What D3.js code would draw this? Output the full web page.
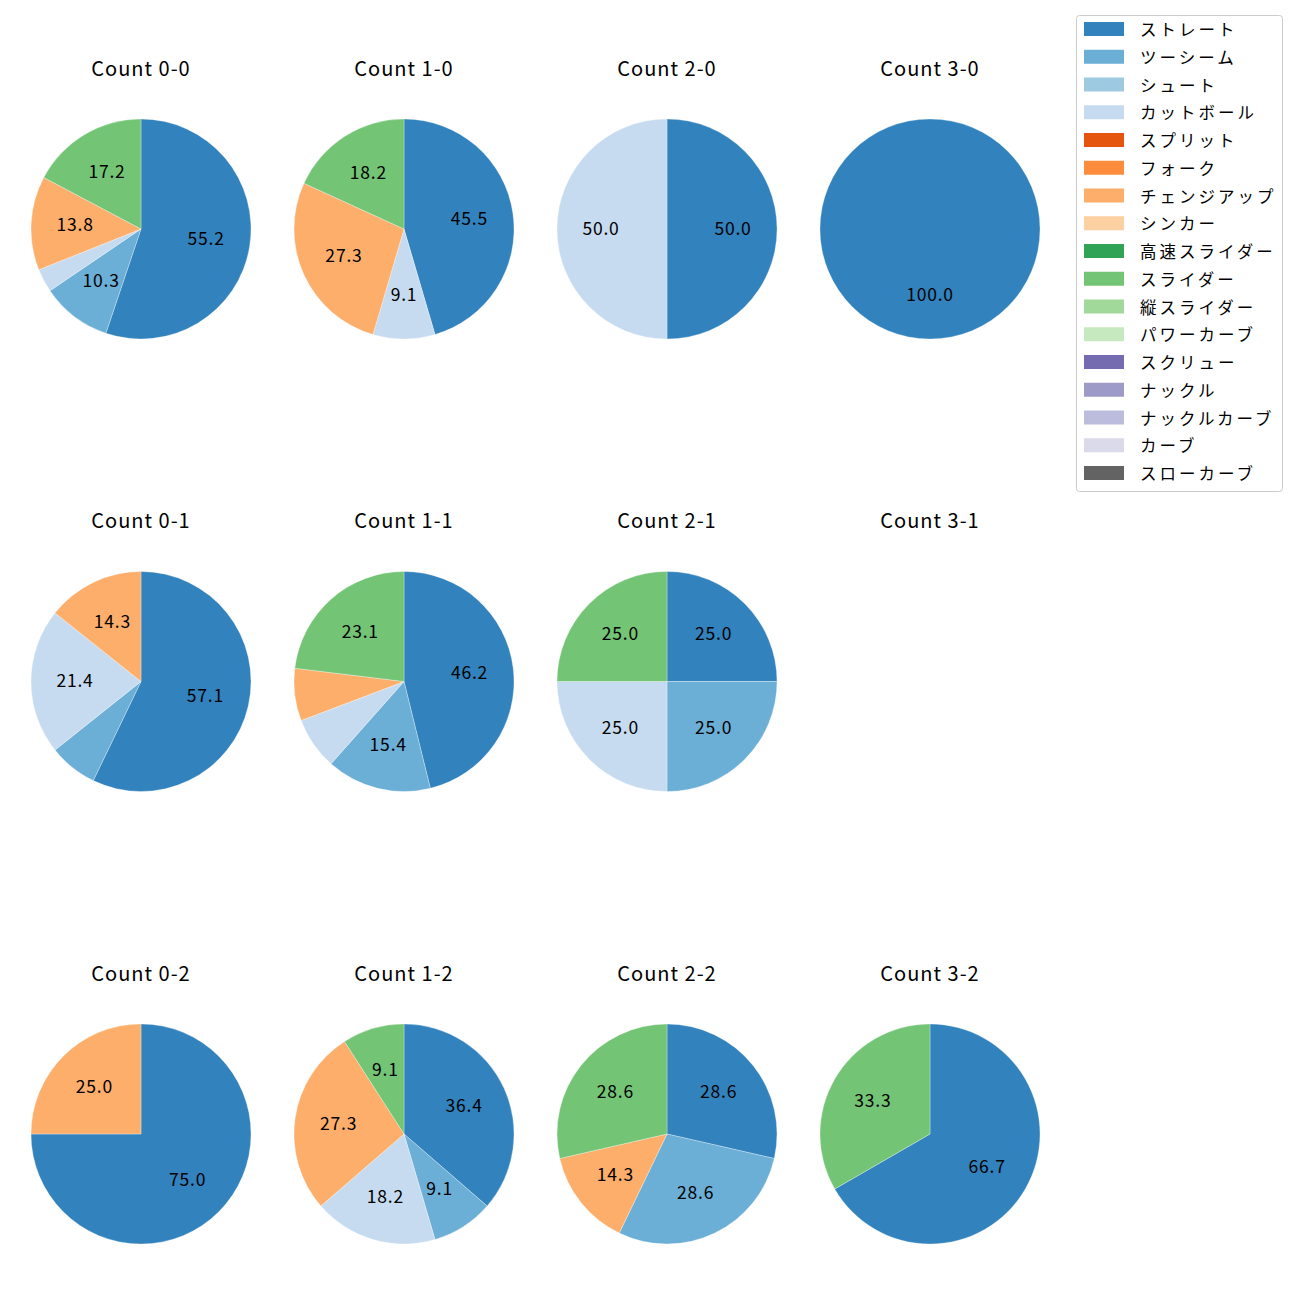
<!DOCTYPE html>
<html><head><meta charset="utf-8">
<script src="https://cdn.jsdelivr.net/npm/d3@7"></script>
<style>body{margin:0;background:#fff}</style>
</head><body>
<svg id="c" width="1300" height="1300"></svg>
<script>
const pitchTypes = ["ストレート","ツーシーム","シュート","カットボール","スプリット","フォーク","チェンジアップ","シンカー","高速スライダー","スライダー","縦スライダー","パワーカーブ","スクリュー","ナックル","ナックルカーブ","カーブ","スローカーブ"];
const pitchColors = ["#3182bd","#6baed6","#9ecae1","#c6dbef","#e6550d","#fd8d3c","#fdae6b","#fdd0a2","#31a354","#74c476","#a1d99b","#c7e9c0","#756bb1","#9e9ac8","#bcbddc","#dadaeb","#636363"];
const panelTitles = ["Count 0-0","Count 1-0","Count 2-0","Count 3-0","Count 0-1","Count 1-1","Count 2-1","Count 3-1","Count 0-2","Count 1-2","Count 2-2","Count 3-2"];
// pitch counts per panel, order: ストレート, ツーシーム, シュート, カットボール, チェンジアップ, スライダー
const shownTypes = ["ストレート","ツーシーム","シュート","カットボール","チェンジアップ","スライダー"];
const count00 = [16,3,0,1,4,5];
const count10 = [5,0,0,1,3,2];
const count20 = [1,0,0,1,0,0];
const count30 = [1,0,0,0,0,0];
const count01 = [8,1,0,3,2,0];
const count11 = [6,2,0,1,1,3];
const count21 = [1,1,0,1,0,1];
const count31 = [];
const count02 = [3,0,0,0,1,0];
const count12 = [4,1,0,2,3,1];
const count22 = [2,2,0,0,1,2];
const count32 = [2,0,0,0,0,1];
const panelData = [count00,count10,count20,count30,count01,count11,count21,count31,count02,count12,count22,count32];

const svg = d3.select("#c");
const font = "'Noto Sans CJK JP','Noto Sans',sans-serif";
const colX = d3.scalePoint().domain([0,1,2,3]).range([141,930]);
const rowY = d3.scalePoint().domain([0,1,2]).range([229,1134]);
const R = 110;
const color = d3.scaleOrdinal().domain(pitchTypes).range(pitchColors);
const pie = d3.pie().sort(null).value(d => d.v).startAngle(0).endAngle(2*Math.PI);
const arc = d3.arc().innerRadius(0).outerRadius(R);
const labelArc = d3.arc().innerRadius(R*0.6).outerRadius(R*0.6);

panelData.forEach((vals, i) => {
  const c = i % 4, r = Math.floor(i / 4);
  const g = svg.append("g").attr("transform", `translate(${colX(c)},${rowY(r)})`);
  g.append("text").attr("x", 0).attr("y", -162).attr("text-anchor","middle")
    .attr("dominant-baseline","central")
    .attr("font-family", font).attr("font-size", 20).attr("letter-spacing", 1)
    .attr("fill","#000").text(panelTitles[i]);
  if (!vals.length) return;
  const total = d3.sum(vals);
  const items = vals.map((v,k) => ({t: shownTypes[k], v})).filter(d => d.v > 0);
  const arcs = pie(items);
  g.selectAll("path").data(arcs).join("path")
    .attr("d", arc).attr("fill", d => color(d.data.t))
    .attr("stroke", "#fff").attr("stroke-width", 0.3);
  g.selectAll("text.lbl").data(arcs.filter(d => d.data.v / total * 100 >= 8)).join("text")
    .attr("class","lbl")
    .attr("transform", d => { const p = labelArc.centroid(d); return `translate(${p[0]},${p[1] - 2})`; })
    .attr("text-anchor","middle").attr("dominant-baseline","central")
    .attr("font-family", font).attr("font-size", 17.5).attr("letter-spacing", 0.8).attr("fill","#000")
    .text(d => (d.data.v / total * 100).toFixed(1));
});

// legend
const lg = svg.append("g");
lg.append("rect").attr("x",1076.5).attr("y",15.5).attr("width",206).attr("height",476).attr("rx",3)
  .attr("fill","#fff").attr("stroke","#ccc").attr("stroke-width",1);
const ly = d3.scaleLinear().domain([0,16]).range([29,473]);
pitchTypes.forEach((t,k) => {
  lg.append("rect").attr("x",1084).attr("y",ly(k)-7).attr("width",40).attr("height",14).attr("fill",color(t));
  lg.append("text").attr("x",1140).attr("y",ly(k)).attr("dominant-baseline","central")
    .attr("font-family",font).attr("font-size",16.5).attr("letter-spacing",3).attr("fill","#000").text(t);
});
</script>
</body></html>
